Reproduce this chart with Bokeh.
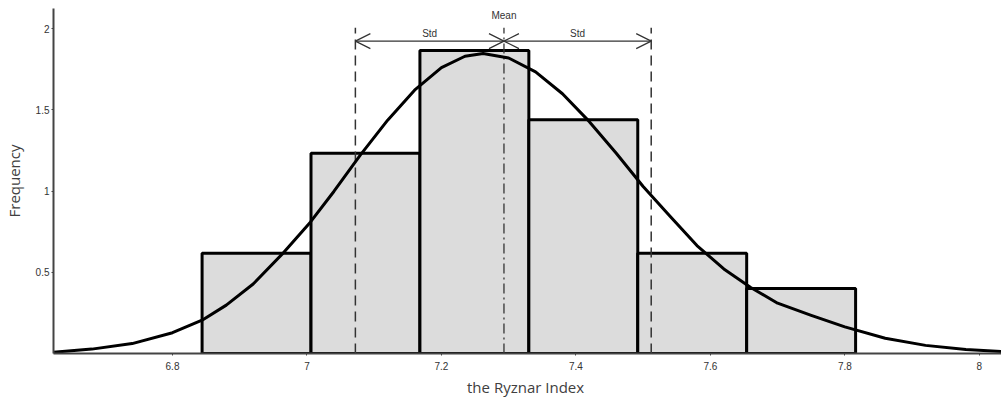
from bokeh.plotting import figure
from bokeh.models import Arrow, OpenHead, FixedTicker, Range1d
from bokeh.core.properties import value
from bokeh.embed import file_html
from bokeh.resources import INLINE

# ---- data ----
bin_edges = [6.844, 7.006, 7.168, 7.330, 7.492, 7.654, 7.816]
frequency = [0.617, 1.233, 1.866, 1.44, 0.617, 0.40]

curve_x = [6.623, 6.680, 6.740, 6.800, 6.844, 6.880, 6.920, 6.963, 7.005, 7.040,
           7.079, 7.120, 7.160, 7.200, 7.235, 7.262, 7.300, 7.340, 7.380, 7.420,
           7.460, 7.500, 7.540, 7.580, 7.620, 7.660, 7.700, 7.750, 7.800, 7.860,
           7.920, 7.980, 8.033]
curve_y = [0.008, 0.027, 0.061, 0.128, 0.205, 0.298, 0.428, 0.612, 0.809, 0.998,
           1.220, 1.437, 1.622, 1.761, 1.831, 1.848, 1.820, 1.735, 1.600, 1.428,
           1.233, 1.029, 0.846, 0.665, 0.521, 0.407, 0.310, 0.235, 0.164, 0.094,
           0.050, 0.025, 0.012]

mean_val = 7.293
std_lo = 7.072
std_hi = 7.512

x_ticks = [6.8, 7.0, 7.2, 7.4, 7.6, 7.8, 8.0]
x_tick_labels = ["6.8", "7", "7.2", "7.4", "7.6", "7.8", "8"]
y_ticks = [0.5, 1.0, 1.5, 2.0]
y_tick_labels = ["0.5", "1", "1.5", "2"]

ref_top = 2.007
arrow_y = 1.924
std_label_y = 1.971
mean_label_y = 2.082

small_font = "Liberation Sans"

p = figure(frame_width=948, frame_height=345, output_backend="svg", toolbar_location=None,
           x_range=Range1d(6.623, 8.033), y_range=Range1d(0, 2.125),
           min_border_left=47, min_border_right=0, min_border_top=8,
           min_border_bottom=40)
p.outline_line_color = None
p.xgrid.visible = False
p.ygrid.visible = False
p.background_fill_color = "white"

p.quad(left=bin_edges[:-1], right=bin_edges[1:], bottom=0, top=frequency,
       fill_color="#dcdcdc", line_color="black", line_width=3)

p.segment(x0=[std_lo, std_hi], y0=[0, 0], x1=[std_lo, std_hi], y1=[ref_top, ref_top],
          line_color="#333333", line_width=1.5, line_dash="10 6")
p.segment(x0=[mean_val], y0=[0], x1=[mean_val], y1=[ref_top],
          line_color="#333333", line_width=1.3, line_dash="10 4 2 4")

p.line(curve_x, curve_y, line_color="black", line_width=3, line_join="round")

for xs, xe in [(std_lo, mean_val), (mean_val, std_hi)]:
    p.add_layout(Arrow(start=OpenHead(size=15, line_width=1.2, line_color="#333333"),
                       end=OpenHead(size=15, line_width=1.2, line_color="#333333"),
                       x_start=xs, y_start=arrow_y, x_end=xe, y_end=arrow_y,
                       line_width=1.2, line_color="#333333"))

p.text(x=[(std_lo + mean_val) / 2, (mean_val + std_hi) / 2], y=[std_label_y, std_label_y],
       text=["Std", "Std"], text_font=value(small_font), text_font_size="10px",
       text_align="center", text_baseline="middle", text_color="#333333")
p.text(x=[mean_val], y=[mean_label_y], text=["Mean"], text_font=value(small_font),
       text_font_size="10px", text_align="center", text_baseline="middle",
       text_color="#333333")

p.xaxis.ticker = FixedTicker(ticks=x_ticks)
p.xaxis.major_label_overrides = {t: l for t, l in zip(x_ticks, x_tick_labels)}
p.yaxis.ticker = FixedTicker(ticks=y_ticks)
p.yaxis.major_label_overrides = {t: l for t, l in zip(y_ticks, y_tick_labels)}

for ax in (p.xaxis[0], p.yaxis[0]):
    ax.axis_line_color = "#444444"
    ax.axis_line_width = 2
    ax.major_tick_out = 2
    ax.major_tick_in = 0
    ax.major_tick_line_color = "#444444"
    ax.minor_tick_line_color = None
    ax.major_label_text_font = small_font
    ax.major_label_text_font_size = "10px"
    ax.major_label_text_color = "#333333"
    ax.axis_label_text_font = "Open Sans"
    ax.axis_label_text_font_size = "15px"
    ax.axis_label_text_font_style = "normal"
    ax.axis_label_text_color = "#404040"

p.xaxis.axis_label = "the Ryznar  Index"
p.xaxis.major_label_standoff = 6
p.xaxis.axis_label_standoff = 4
p.yaxis.axis_label = "Frequency"
p.yaxis.major_label_standoff = 2
p.yaxis.axis_label_standoff = 9

open("out.html", "w").write(file_html(p, INLINE))
